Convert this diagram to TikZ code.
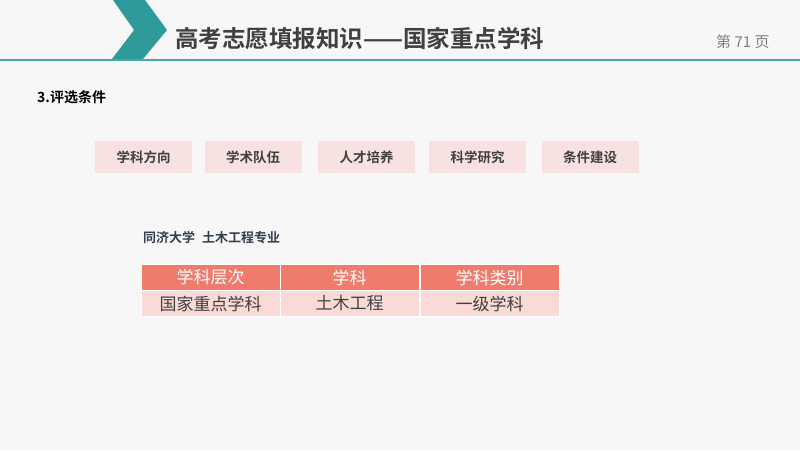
\documentclass[tikz,border=0pt]{standalone}
\usepackage{fontspec}
\setmainfont{Noto Sans CJK SC}
\newfontfamily\cjkb{Noto Sans CJK SC Bold}
\definecolor{bg}{HTML}{F7F7F7}
\definecolor{teal}{HTML}{2E9A9A}
\definecolor{linec}{HTML}{4AA8A8}
\definecolor{titlec}{HTML}{404040}
\definecolor{pinkbox}{HTML}{F8E1E1}
\definecolor{hdr}{HTML}{EE7B6C}
\definecolor{rowc}{HTML}{FADAD6}
\definecolor{navy}{HTML}{333F50}
\tikzset{
 tag/.style={fill=pinkbox,minimum width=97pt,minimum height=32pt,inner sep=0pt,font=\cjkb\fontsize{13.5}{13.5}\selectfont,text=titlec},
 hcell/.style={fill=hdr,draw=white,line width=1pt,minimum width=139pt,minimum height=26pt,inner sep=0pt,text=white,font=\fontsize{17}{17}\selectfont},
 bcell/.style={fill=rowc,draw=white,line width=1pt,minimum width=139pt,minimum height=26pt,inner sep=0pt,text=titlec,font=\fontsize{17}{17}\selectfont}
}
\begin{document}
\begin{tikzpicture}[x=1pt,y=-1pt]
\fill[bg] (0,0) rectangle (800,450);
\useasboundingbox (0,0) rectangle (800,450);
\fill[teal] (113,0) -- (145,0) -- (167,30) -- (143,59) -- (112,59) -- (134,30) -- cycle;
\draw[linec,line width=2pt] (0,59.5) -- (800,59.5);
\node[anchor=west,text=titlec,font=\cjkb\fontsize{23.5}{23.5}\selectfont,inner sep=0pt] (title) at (175,39) {高考志愿填报知识——国家重点学科};
\node[anchor=west,text=gray,font=\fontsize{15}{15}\selectfont,inner sep=0pt] (page) at (716,42) {第 71 页};
\node[anchor=west,text=black,font=\cjkb\fontsize{14}{14}\selectfont,inner sep=0pt] (sec) at (37,97) {3.评选条件};
\node[tag] (t1) at (143.5,157) {学科方向};
\node[tag] (t2) at (253,157) {学术队伍};
\node[tag] (t3) at (366.5,157) {人才培养};
\node[tag] (t4) at (477.5,157) {科学研究};
\node[tag] (t5) at (590,157) {条件建设};
\node[anchor=west,text=navy,font=\cjkb\fontsize{13}{13}\selectfont,inner sep=0pt] (uni) at (143,238) {同济大学\hspace{7pt}土木工程专业};
\node[hcell] (h1) at (210.5,277.5) {学科层次};
\node[hcell] (h2) at (349.5,277.5) {学科};
\node[hcell] (h3) at (489.5,277.5) {学科类别};
\node[bcell] (b1) at (210.5,303.5) {国家重点学科};
\node[bcell] (b2) at (349.5,303.5) {土木工程};
\node[bcell] (b3) at (489.5,303.5) {一级学科};
\end{tikzpicture}
\end{document}
